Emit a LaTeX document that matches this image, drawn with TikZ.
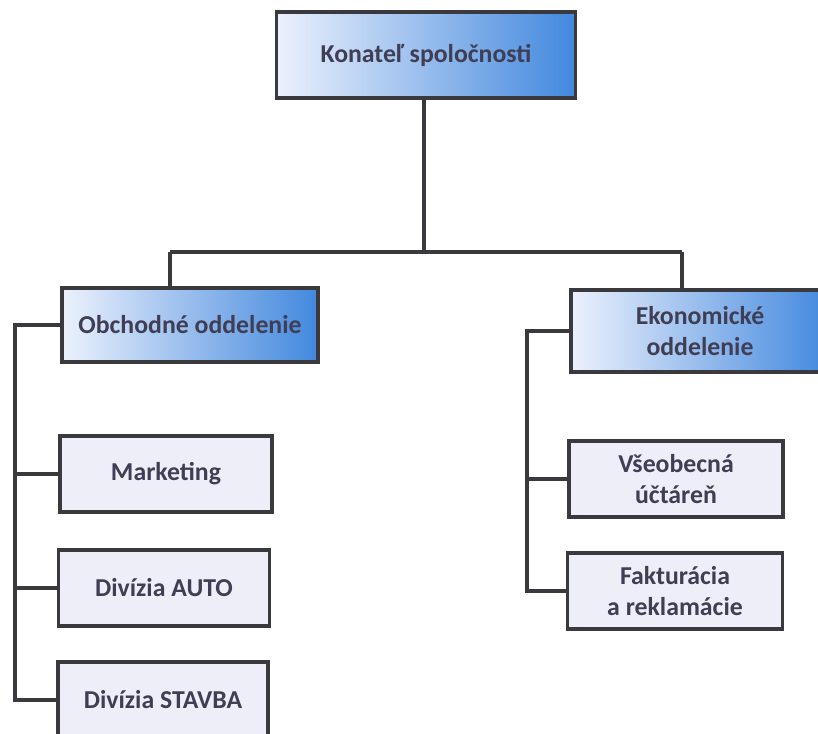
\documentclass[tikz,border=0pt]{standalone}
\usepackage{fontspec}
\setmainfont{Carlito}
\usepackage{tikz}
\definecolor{hdblue}{RGB}{66,136,222}
\definecolor{hdlight}{RGB}{236,241,252}
\definecolor{hdmid}{RGB}{212,226,247}
\definecolor{subfill}{RGB}{238,238,248}
\definecolor{edgegray}{RGB}{58,58,62}
\definecolor{txtgray}{RGB}{64,62,84}

\begin{document}
\begin{tikzpicture}[x=0.03cm,y=-0.03cm,
    headbox/.style={draw=edgegray,line width=2.6pt,left color=hdlight,middle color=hdmid,right color=hdblue,
        align=center,text=txtgray,font=\fontsize{22}{27}\selectfont\bfseries},
    subbox/.style={draw=edgegray,line width=2.6pt,fill=subfill,minimum width=210*0.03cm,
        minimum height=76*0.03cm,align=center,text=txtgray,font=\fontsize{22}{27}\selectfont\bfseries},
    conn/.style={draw=edgegray,line width=2.6pt}]
 		\clip (0,0) rectangle (818,734);
 		\fill[white] (0,0) rectangle (818,734);
 		% vedenie
 		\node[headbox,minimum width=299*0.03cm,minimum height=86*0.03cm] (konatel) at (426,55) {Konateľ spoločnosti};
 		\node[headbox,minimum width=256*0.03cm,minimum height=74*0.03cm] (obch) at (190,325) {Obchodné oddelenie};
 		\node[headbox,minimum width=258*0.03cm,minimum height=82*0.03cm] (ekon) at (700,331) {Ekonomické\\oddelenie};
 		% obchodne oddelenie
 		\node[subbox,minimum width=212*0.03cm] (mark) at (166,474) {Marketing};
 		\node[subbox,minimum width=211*0.03cm] (auto) at (164,588) {Divízia AUTO};
 		\node[subbox,minimum width=210*0.03cm] (stav) at (163,700) {Divízia STAVBA};
 		% ekonomicke oddelenie
 		\node[subbox,minimum width=214*0.03cm] (vseob) at (676,479) {Všeobecná\\účtáreň};
 		\node[subbox,minimum width=215*0.03cm] (fakt) at (675,591) {Fakturácia\\a reklamácie};
 		% spojnice
 		\coordinate (hub) at (424,252);
 		\coordinate (jl) at (170,252);
 		\coordinate (jr) at (682,252);
 		\coordinate (spL) at (15,0);
 		\coordinate (spR) at (527,0);
 		\draw[conn] (konatel.south -| hub) -- (hub);
 		\draw[conn] (jl) -- (jr);
 		\draw[conn] (jl) -- (jl |- obch.north);
 		\draw[conn] (jr) -- (jr |- ekon.north);
 		\draw[conn] (obch.west) -- (obch.west -| spL) -- (stav.west -| spL) -- (stav.west);
 		\draw[conn] (mark.west -| spL) -- (mark.west);
 		\draw[conn] (auto.west -| spL) -- (auto.west);
 		\draw[conn] (ekon.west) -- (ekon.west -| spR) -- (fakt.west -| spR) -- (fakt.west);
 		\draw[conn] (vseob.west -| spR) -- (vseob.west);
\end{tikzpicture}
\end{document}
